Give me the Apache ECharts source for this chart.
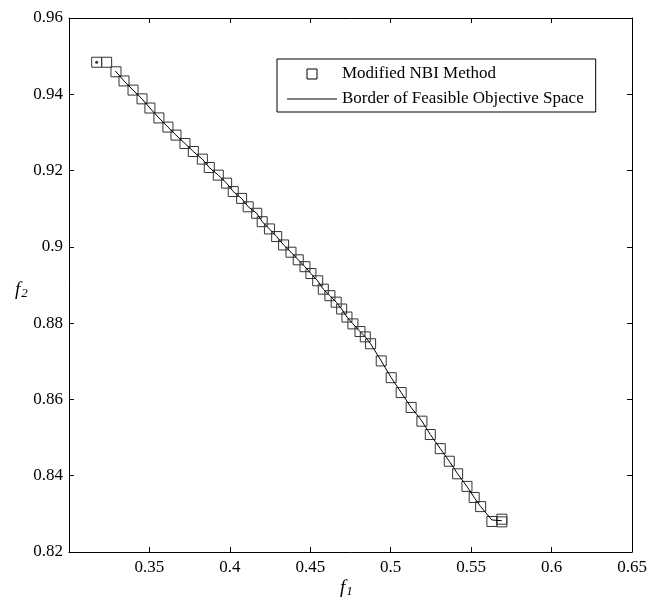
<!DOCTYPE html>
<html>
<head>
<meta charset="utf-8">
<script src="https://cdn.jsdelivr.net/npm/echarts@6/dist/echarts.min.js"></script>
<style>html,body{margin:0;padding:0;background:#fff;}#c{width:664px;height:604px;}</style>
</head>
<body>
<div id="c"></div>
<script>
// Modified NBI Method points (f1, f2)
var nbiF1 = [0.3172, 0.3234, 0.3292, 0.3342, 0.3398, 0.3454, 0.3503, 0.3559, 0.3615, 0.3665,
             0.3721, 0.3773, 0.3829, 0.3872, 0.3928, 0.3980, 0.4021, 0.4073, 0.4114, 0.4167,
             0.4201, 0.4246, 0.4291, 0.4334, 0.4380, 0.4425, 0.4467, 0.4504, 0.4546, 0.4581,
             0.4622, 0.4661, 0.4695, 0.4728, 0.4765, 0.4809, 0.4842, 0.4875, 0.4941, 0.5003,
             0.5065, 0.5127, 0.5194, 0.5246, 0.5308, 0.5364, 0.5416, 0.5474, 0.5519, 0.5559,
             0.5629, 0.5691, 0.5691];
var nbiF2 = [0.9484, 0.9484, 0.9459, 0.9435, 0.9411, 0.9388, 0.9364, 0.9338, 0.9314, 0.9293,
             0.9271, 0.9250, 0.9230, 0.9208, 0.9188, 0.9167, 0.9145, 0.9127, 0.9105, 0.9088,
             0.9066, 0.9047, 0.9027, 0.9005, 0.8986, 0.8966, 0.8948, 0.8930, 0.8911, 0.8889,
             0.8872, 0.8855, 0.8837, 0.8816, 0.8798, 0.8778, 0.8764, 0.8746, 0.8701, 0.8657,
             0.8618, 0.8579, 0.8543, 0.8508, 0.8471, 0.8438, 0.8405, 0.8372, 0.8343, 0.8319,
             0.8280, 0.8286, 0.8279];
// Border of feasible objective space
var borderF1 = [0.3288, 0.3342, 0.3398, 0.3454, 0.3503, 0.3559, 0.3615, 0.3665, 0.3721, 0.3773,
                0.3829, 0.3872, 0.3928, 0.3980, 0.4021, 0.4073, 0.4114, 0.4167, 0.4201, 0.4246,
                0.4291, 0.4334, 0.4380, 0.4425, 0.4467, 0.4504, 0.4546, 0.4581, 0.4622, 0.4661,
                0.4695, 0.4728, 0.4765, 0.4809, 0.4842, 0.4875, 0.4941, 0.5003, 0.5065, 0.5127,
                0.5194, 0.5246, 0.5308, 0.5364, 0.5416, 0.5474, 0.5519, 0.5559, 0.5629, 0.5691];
var borderF2 = [0.9461, 0.9435, 0.9411, 0.9388, 0.9364, 0.9338, 0.9314, 0.9293, 0.9271, 0.9250,
                0.9230, 0.9208, 0.9188, 0.9167, 0.9145, 0.9127, 0.9105, 0.9088, 0.9066, 0.9047,
                0.9027, 0.9005, 0.8986, 0.8966, 0.8948, 0.8930, 0.8911, 0.8889, 0.8872, 0.8855,
                0.8837, 0.8816, 0.8798, 0.8778, 0.8764, 0.8746, 0.8701, 0.8657, 0.8618, 0.8579,
                0.8543, 0.8508, 0.8471, 0.8438, 0.8405, 0.8372, 0.8343, 0.8319, 0.8284, 0.8282];
// single dot marker inside the first square
var dotF1 = [0.3172];
var dotF2 = [0.9484];

var seriesNames = ['Modified NBI Method', 'Border of Feasible Objective Space'];
var xMin = 0.3, xMax = 0.65, xStep = 0.05;
var yMin = 0.82, yMax = 0.96, yStep = 0.02;

function zip(a, b) { return a.map(function (v, i) { return [v, b[i]]; }); }
var FONT = 'Liberation Serif';
function fmt(v) { return String(Math.round(v * 1000) / 1000); }

var axisCommon = {
  type: 'value',
  axisLine: { show: true, lineStyle: { color: '#000', width: 1 } },
  axisTick: { show: true, inside: true, length: 5, lineStyle: { color: '#000', width: 1 } },
  splitLine: { show: false }
};

var chart = echarts.init(document.getElementById('c'), null, { renderer: 'canvas' });
chart.setOption({
  backgroundColor: '#fff',
  animation: false,
  grid: { left: 69, right: 32, top: 18, bottom: 52, containLabel: false },
  xAxis: [
    Object.assign({}, axisCommon, {
      min: xMin, max: xMax, interval: xStep, position: 'bottom',
      axisLabel: { show: true, margin: 7, color: '#000', fontFamily: FONT, fontSize: 17,
        formatter: function (v) { return Math.abs(v - xMin) < 1e-9 ? '' : fmt(v); } }
    }),
    Object.assign({}, axisCommon, {
      min: xMin, max: xMax, interval: xStep, position: 'top',
      axisLabel: { show: false }
    })
  ],
  yAxis: [
    Object.assign({}, axisCommon, {
      min: yMin, max: yMax, interval: yStep, position: 'left',
      axisLabel: { show: true, margin: 6, color: '#000', fontFamily: FONT, fontSize: 17,
        formatter: function (v) { return fmt(v); } }
    }),
    Object.assign({}, axisCommon, {
      min: yMin, max: yMax, interval: yStep, position: 'right',
      axisLabel: { show: false }
    })
  ],
  legend: {
    orient: 'vertical',
    left: 277, top: 59,
    padding: [5, 12, 3, 10],
    itemGap: 5,
    itemWidth: 50, itemHeight: 10,
    symbolKeepAspect: true,
    borderColor: '#000', borderWidth: 1, borderRadius: 0,
    backgroundColor: '#fff',
    textStyle: { fontFamily: FONT, fontSize: 17, lineHeight: 20, color: '#000' },
    data: [
      { name: seriesNames[0], icon: 'path://M0,0H10V10H0Z',
        itemStyle: { color: 'rgba(0,0,0,0)', borderColor: '#000', borderWidth: 1 } },
      { name: seriesNames[1], icon: 'path://M0,0H50V1H0Z',
        itemStyle: { color: '#000', borderWidth: 0 } }
    ]
  },
  series: [
    {
      name: seriesNames[1],
      type: 'line',
      data: zip(borderF1, borderF2),
      symbol: 'none',
      lineStyle: { color: '#000', width: 1 },
      itemStyle: { color: '#000' },
      z: 3
    },
    {
      name: seriesNames[0],
      type: 'scatter',
      data: zip(nbiF1, nbiF2),
      symbol: 'rect',
      symbolSize: 10,
      itemStyle: { color: 'rgba(0,0,0,0)', borderColor: '#333', borderWidth: 1, opacity: 1 },
      z: 2
    },
    {
      name: 'dot',
      type: 'scatter',
      data: zip(dotF1, dotF2),
      symbol: 'circle',
      symbolSize: 3,
      itemStyle: { color: '#000' },
      z: 4
    }
  ],
  graphic: [
    {
      type: 'text', left: 340, top: 578,
      style: {
        text: '{a|f}{b|1}',
        rich: {
          a: { fontFamily: FONT, fontStyle: 'italic', fontSize: 19, fill: '#000', lineHeight: 22, verticalAlign: 'middle' },
          b: { fontFamily: FONT, fontStyle: 'italic', fontSize: 13, fill: '#000', verticalAlign: 'bottom', padding: [8, 0, 0, 1] }
        }
      }
    },
    {
      type: 'text', left: 15, top: 280,
      style: {
        text: '{a|f}{b|2}',
        rich: {
          a: { fontFamily: FONT, fontStyle: 'italic', fontSize: 19, fill: '#000', lineHeight: 22, verticalAlign: 'middle' },
          b: { fontFamily: FONT, fontStyle: 'italic', fontSize: 13, fill: '#000', verticalAlign: 'bottom', padding: [8, 0, 0, 1] }
        }
      }
    }
  ]
});
</script>
</body>
</html>
